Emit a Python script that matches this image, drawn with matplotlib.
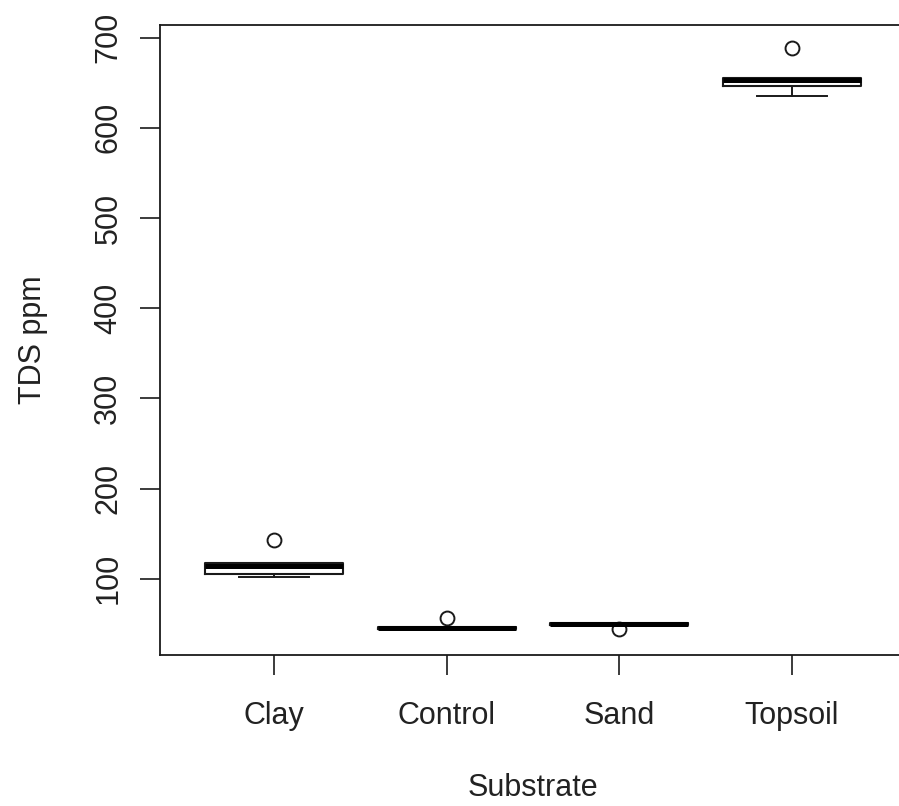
import matplotlib
matplotlib.use("Agg")
import matplotlib.pyplot as plt

categories = ["Clay", "Control", "Sand", "Topsoil"]
q1 = [105.5, 44.0, 48.5, 646.0]
med = [114.5, 45.5, 50.0, 653.0]
q3 = [117.5, 47.0, 51.0, 655.5]
whislo = [102.0, 43.5, 48.5, 635.0]
whishi = [117.5, 47.0, 51.0, 655.5]
outliers = [[142.5], [56.5], [44.0], [688.5]]

plt.rcParams['font.family'] = ['Liberation Sans', 'DejaVu Sans']

fig = plt.figure(figsize=(8.99, 8.06), dpi=100)
ax = fig.add_axes([160/899, (806-655)/806, (906-160)/899, (655-25)/806])

stats = []
for i, c in enumerate(categories):
    stats.append(dict(label=c, q1=q1[i], med=med[i], q3=q3[i],
                      whislo=whislo[i], whishi=whishi[i], fliers=outliers[i]))

lc = '#1a1a1a'
ax.bxp(stats, positions=range(1, 5), widths=0.8, capwidths=0.4,
       boxprops=dict(color=lc, linewidth=1.5),
       medianprops=dict(color='black', linewidth=3.6, solid_capstyle='butt'),
       whiskerprops=dict(color=lc, linewidth=1.4, linestyle='-'),
       capprops=dict(color=lc, linewidth=1.4),
       flierprops=dict(marker='o', markerfacecolor='none', markeredgecolor=lc,
                       markersize=10, markeredgewidth=1.4, linestyle='none'))

ax.set_xlim(0.34, 4.66)
ax.set_ylim(15.5, 714)
ax.set_yticks([100, 200, 300, 400, 500, 600, 700])
ax.set_yticklabels(['100', '200', '300', '400', '500', '600', '700'],
                   rotation=90, va='center')
ax.set_xticks([1, 2, 3, 4])
ax.set_xticklabels(categories)
ax.tick_params(axis='both', direction='out', length=14.4, width=1.2,
               colors=lc, labelsize=22, labelcolor='#222222')
ax.tick_params(axis='x', pad=19)
ax.tick_params(axis='y', pad=12)
for s in ax.spines.values():
    s.set_linewidth(1.3)
    s.set_color(lc)

ax.set_xlabel('Substrate', fontsize=22, color='#222222', labelpad=30)
ax.set_ylabel('TDS ppm', fontsize=22, color='#222222', labelpad=33)

fig.savefig('out.png', dpi=100)
